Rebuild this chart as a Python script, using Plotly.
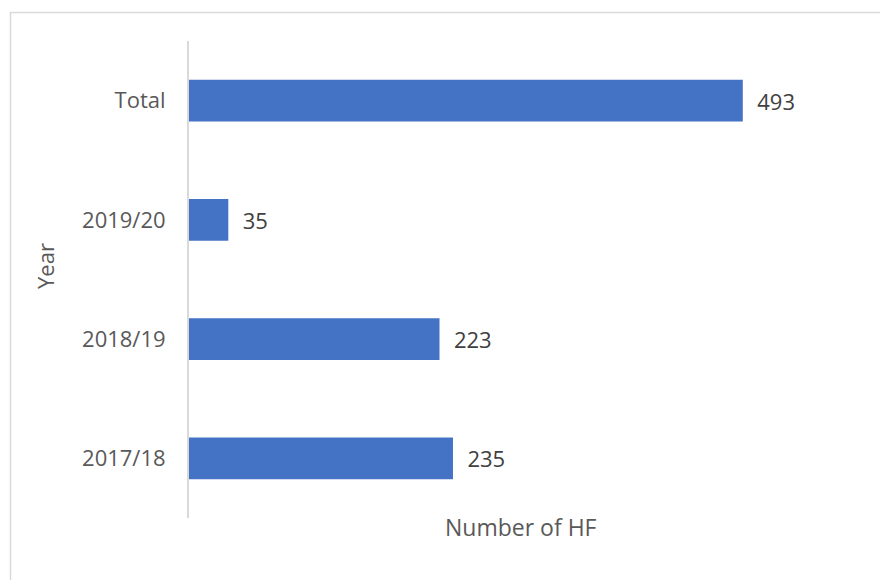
import plotly.graph_objects as go

categories = ["2017/18", "2018/19", "2019/20", "Total"]
values = [235, 223, 35, 493]

FONT = "Open Sans"
GRAY = "#595959"

L, R_, T, B = 189, 17, 41, 62
W, H = 880, 580
pw = W - L - R_
ph = H - T - B

fig = go.Figure(go.Bar(
    x=values, y=categories, orientation="h",
    marker=dict(color="#4472C4", line=dict(width=0)),
    text=["  " + str(v) for v in values],
    textposition="outside",
    textfont=dict(family=FONT, size=22, color="#404040"),
    cliponaxis=False,
))

fig.update_layout(
    width=W, height=H,
    margin=dict(l=L, r=R_, t=T, b=B),
    paper_bgcolor="white", plot_bgcolor="white",
    bargap=0.648,
    showlegend=False,
    xaxis=dict(range=[0, 600], showgrid=False, showticklabels=False,
               zeroline=False, showline=False, fixedrange=True),
    yaxis=dict(categoryorder="array", categoryarray=categories,
               range=[-0.5, 3.5],
               showline=True, linecolor="#d9d9d9", linewidth=2,
               showgrid=False, zeroline=False, ticks="",
               ticklabelstandoff=17,
               tickfont=dict(family=FONT, size=22, color=GRAY)),
    annotations=[
        dict(text="Number of HF", xref="paper", yref="paper",
             x=(521 - L) / pw, y=(H - B - 527) / ph, xanchor="center", yanchor="middle",
             showarrow=False, font=dict(family=FONT, size=23, color=GRAY)),
        dict(text="Year", xref="paper", yref="paper", textangle=-90,
             x=(45 - L) / pw, y=(H - B - 266) / ph, xanchor="center", yanchor="middle",
             showarrow=False, font=dict(family=FONT, size=22, color=GRAY)),
    ],
    shapes=[
        dict(type="rect", xref="paper", yref="paper",
             x0=(10.5 - L) / pw, x1=(895 - L) / pw,
             y0=(H - B - 600) / ph, y1=(H - B - 12.5) / ph,
             line=dict(color="#d9d9d9", width=1.5), fillcolor="rgba(0,0,0,0)",
             layer="below"),
    ],
)

fig.write_html("out.html")
